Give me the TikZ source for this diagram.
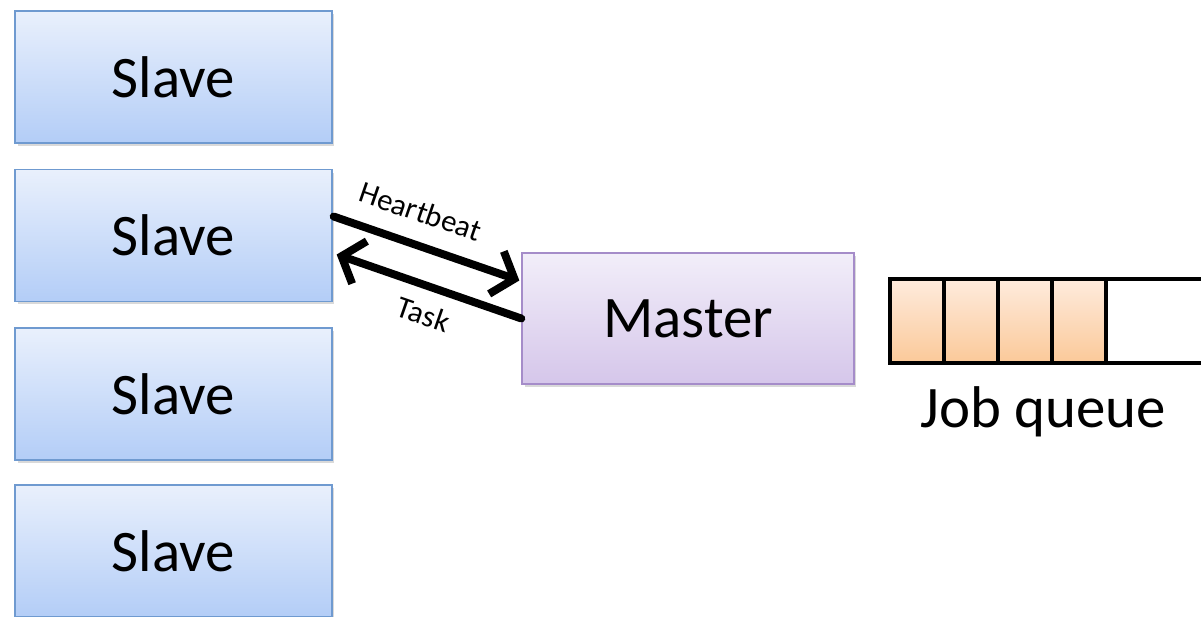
\documentclass[tikz,border=0pt]{standalone}
\usepackage{fontspec}
\setmainfont{Carlito}
\usetikzlibrary{arrows.meta, positioning, calc, shadows}
\definecolor{slavetop}{HTML}{E9F0FC}
\definecolor{slavebot}{HTML}{B3CDF7}
\definecolor{slaveline}{HTML}{6F9AD0}
\definecolor{mastertop}{HTML}{F2EEF9}
\definecolor{masterbot}{HTML}{D5C6EA}
\definecolor{masterline}{HTML}{A58CC9}
\definecolor{jobtop}{HTML}{FEEBDD}
\definecolor{jobbot}{HTML}{FBC999}

\begin{document}
\begin{tikzpicture}[
    x=0.02cm, y=0.02cm,
    slave/.style={rectangle, draw=slaveline, line width=0.8pt, top color=slavetop, bottom color=slavebot, minimum width=6.34cm, minimum height=2.64cm, font=\fontsize{33.5}{38}\selectfont, drop shadow={shadow xshift=0.5mm, shadow yshift=-0.6mm, opacity=0.3}},
    master/.style={rectangle, draw=masterline, line width=0.8pt, top color=mastertop, bottom color=masterbot, minimum width=6.64cm, minimum height=2.62cm, font=\fontsize{33.5}{38}\selectfont, drop shadow={shadow xshift=0.5mm, shadow yshift=-0.6mm, opacity=0.3}},
    cell/.style={rectangle, draw=black, line width=2pt, top color=jobtop, bottom color=jobbot, minimum width=1.08cm, minimum height=1.68cm, inner sep=0pt, outer sep=0pt},
    msg/.style={-{Straight Barb[length=3.8mm, width=9mm]}, line width=4.5pt, line cap=round},
    lbl/.style={font=\fontsize{17.5}{21}\selectfont, sloped}
]
\useasboundingbox (0,0) rectangle (1201,-616);
\clip (0,0) rectangle (1201,-616);

% Slaves
\node[slave] (s1) at (173.5,-77) {Slave};
\node[slave] (s2) at (173.5,-235.5) {Slave};
\node[slave] (s3) at (173.5,-394) {Slave};
\node[slave] (s4) at (173.5,-551) {Slave};

% Master
\node[master] (m) at (688,-318.5) {Master};

% Job queue
\node[rectangle, draw=black, line width=2pt, minimum width=6.6cm, minimum height=1.68cm, outer sep=0pt, anchor=west] (qbox) at (890,-321) {};
\node[cell, anchor=west] (q1) at (qbox.west) {};
\node[cell, right=0pt of q1] (q2) {};
\node[cell, right=0pt of q2] (q3) {};
\node[cell, right=0pt of q3] (q4) {};
\node[font=\fontsize{33.5}{38}\selectfont] (qlabel) at (1043,-412) {Job queue};

% Messages
\draw[msg] ($(s2.east)+(1,19)$) -- node[lbl, above=2.5mm, pos=0.41] (hb) {Heartbeat} ($(m.west)+(-2,38)$);
\draw[msg] (m.west) -- node[lbl, below=1.5mm, pos=0.48] (tk) {Task} ($(s2.east)+(4,-19)$);

\end{tikzpicture}
\end{document}
